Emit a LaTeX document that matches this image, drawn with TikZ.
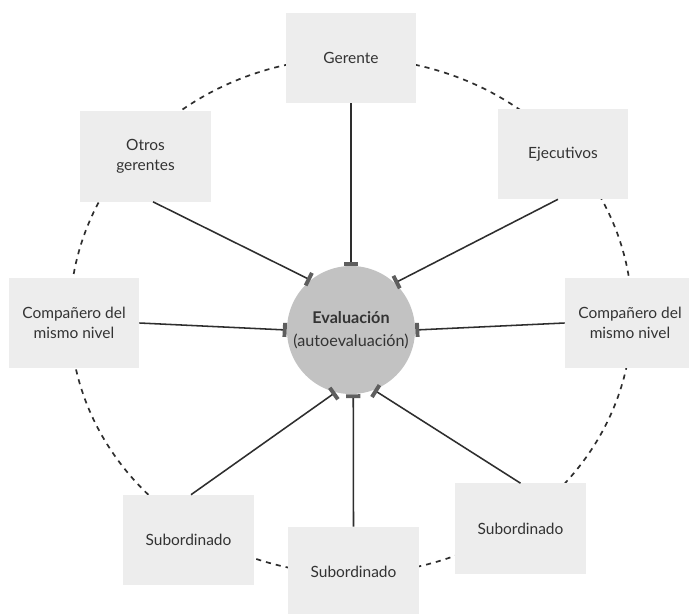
\documentclass[tikz,border=0pt]{standalone}
\usepackage{fontspec}
\setmainfont{Lato}
\usetikzlibrary{arrows.meta}

\definecolor{boxgray}{HTML}{EDEDED}
\definecolor{circlegray}{HTML}{C2C2C2}
\definecolor{bargray}{HTML}{5E5E5E}
\definecolor{linegray}{HTML}{2E2E2E}
\definecolor{textgray}{HTML}{333333}

\tikzset{
  rolebox/.style={fill=boxgray, minimum width=3.25cm, minimum height=2.25cm, inner sep=0pt,
    align=center, text=textgray, font=\fontsize{11}{14.5}\selectfont},
  evalnode/.style={circle, fill=circlegray, minimum size=3.2cm, inner sep=0pt,
    align=center, text=textgray, font=\fontsize{11.5}{16}\selectfont},
  feed/.style={linegray, line width=1.1pt,
    -{Bar[width=10pt, line width=2.8pt, color=bargray]}}
}

\begin{document}
\begin{tikzpicture}[x=0.025cm, y=0.025cm]
    \clip (0,0) rectangle (689,613);
    \fill[white] (0,0) rectangle (689,613);

    % dashed ring behind the boxes
    \draw[linegray, line width=1.2pt, dash pattern=on 3.6pt off 3.6pt] (351,297) ellipse [x radius=281, y radius=258];

    \node[evalnode] (eval) at (351,283) {{\bfseries Evaluación}\\(autoevaluación)};

    \node[rolebox] (gerente) at (351,555) {Gerente};
    \node[rolebox] (otros) at (145.5,456.5) {Otros\\gerentes};
    \node[rolebox] (ejec) at (563,459) {Ejecutivos};
    \node[rolebox] (compL) at (74,290) {Compañero del\\mismo nivel};
    \node[rolebox] (compR) at (630,290) {Compañero del\\mismo nivel};
    \node[rolebox] (subBL) at (188.5,73) {Subordinado};
    \node[rolebox] (subB) at (353.5,41) {Subordinado};
    \node[rolebox] (subBR) at (520.5,84.5) {Subordinado};

    % every source points at the evaluation
    \foreach \s/\dx/\a in {gerente.south/0/90, otros.south/7.5/129, ejec.south/-5/47,
        compL.east/0/180, compR.west/0/0, subBL.north/2.5/256, subB.north/0/272, subBR.north/0/291}
      \draw[feed] ([shift={(\dx,0)}]\s) -- (eval.\a);
\end{tikzpicture}
\end{document}
